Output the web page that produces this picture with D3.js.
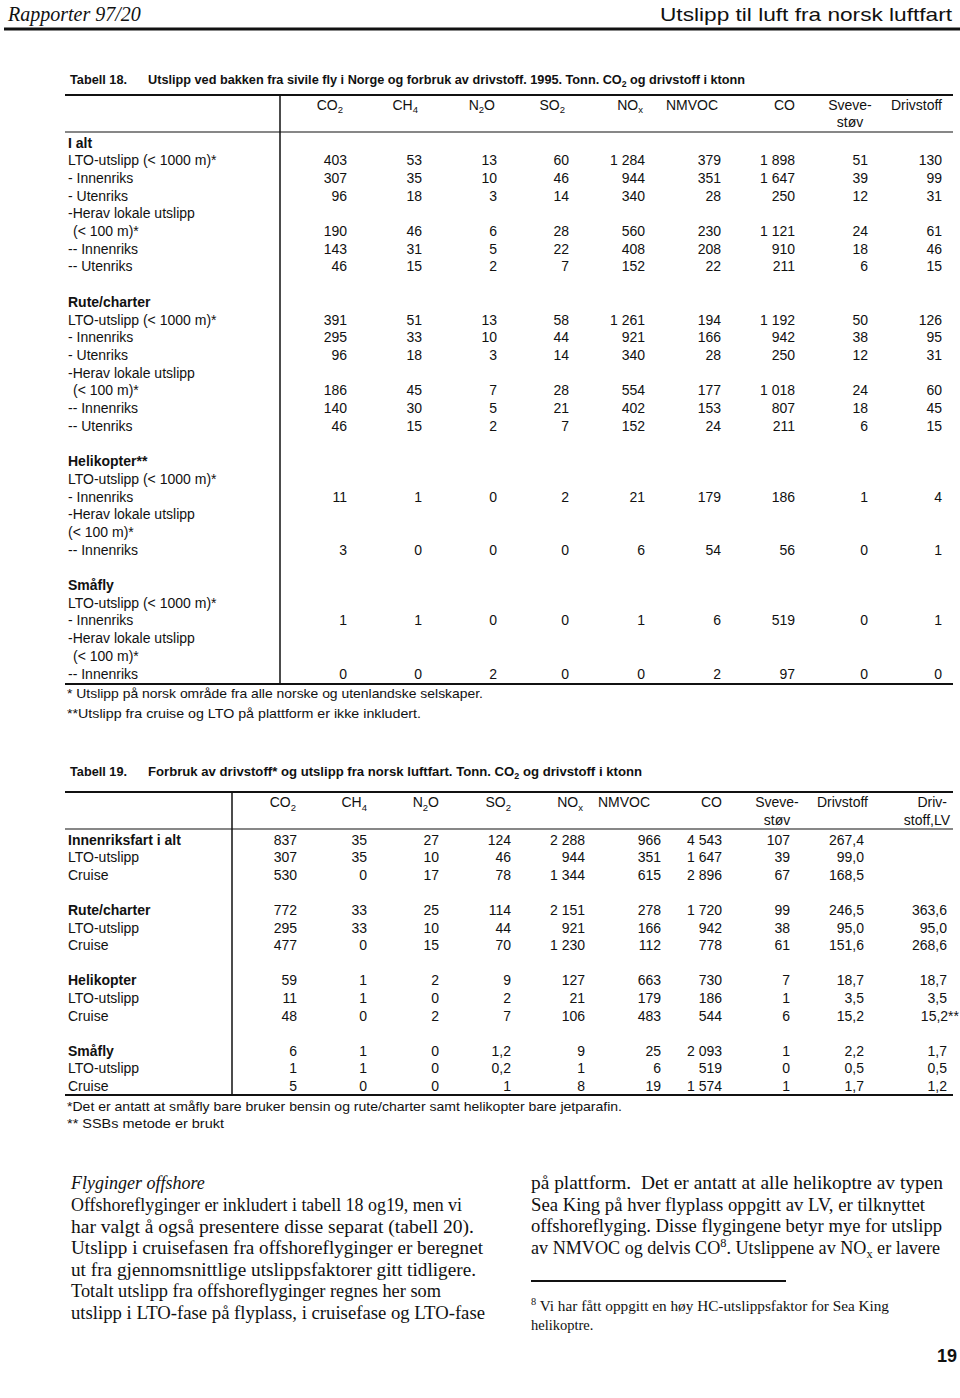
<!DOCTYPE html>
<html>
<head>
<meta charset="utf-8">
<script src="https://cdn.jsdelivr.net/npm/d3@7"></script>
<style>
  body { margin: 0; background: #fff; }
  text { fill: #111; }
</style>
</head>
<body>
<div id="page"></div>
<script>
// ---- Tabell 18 ----
var t18Title = "Utslipp ved bakken fra sivile fly i Norge og forbruk av drivstoff. 1995. Tonn. CO_2 og drivstoff i ktonn";
var t18Columns = ["CO_2", "CH_4", "N_2O", "SO_2", "NO_x", "NMVOC", "CO", "Sveve-|støv", "Drivstoff"];
var t18Groups = ["I alt", "Rute/charter", "Helikopter**", "Småfly"];
var t18Labels = [
    "I alt", "LTO-utslipp (< 1000 m)*", "- Innenriks", "- Utenriks", "-Herav lokale utslipp", " (< 100 m)*", "-- Innenriks", "-- Utenriks",
    "",
    "Rute/charter", "LTO-utslipp (< 1000 m)*", "- Innenriks", "- Utenriks", "-Herav lokale utslipp", " (< 100 m)*", "-- Innenriks", "-- Utenriks",
    "",
    "Helikopter**", "LTO-utslipp (< 1000 m)*", "- Innenriks", "-Herav lokale utslipp", "(< 100 m)*", "-- Innenriks",
    "",
    "Småfly", "LTO-utslipp (< 1000 m)*", "- Innenriks", "-Herav lokale utslipp", " (< 100 m)*", "-- Innenriks"
];
var t18Values = [
    null, [403, 53, 13, 60, 1284, 379, 1898, 51, 130], [307, 35, 10, 46, 944, 351, 1647, 39, 99], [96, 18, 3, 14, 340, 28, 250, 12, 31],
    null, [190, 46, 6, 28, 560, 230, 1121, 24, 61], [143, 31, 5, 22, 408, 208, 910, 18, 46], [46, 15, 2, 7, 152, 22, 211, 6, 15],
    null,
    null, [391, 51, 13, 58, 1261, 194, 1192, 50, 126], [295, 33, 10, 44, 921, 166, 942, 38, 95], [96, 18, 3, 14, 340, 28, 250, 12, 31],
    null, [186, 45, 7, 28, 554, 177, 1018, 24, 60], [140, 30, 5, 21, 402, 153, 807, 18, 45], [46, 15, 2, 7, 152, 24, 211, 6, 15],
    null,
    null, null, [11, 1, 0, 2, 21, 179, 186, 1, 4], null, null, [3, 0, 0, 0, 6, 54, 56, 0, 1],
    null,
    null, null, [1, 1, 0, 0, 1, 6, 519, 0, 1], null, null, [0, 0, 2, 0, 0, 2, 97, 0, 0]
];
var t18Notes = ["* Utslipp på norsk område fra alle norske og utenlandske selskaper.",
                "**Utslipp fra cruise og LTO på plattform er ikke inkludert."];

// ---- Tabell 19 ----
var t19Title = "Forbruk av drivstoff* og utslipp fra norsk luftfart. Tonn. CO_2 og drivstoff i ktonn";
var t19Columns = ["CO_2", "CH_4", "N_2O", "SO_2", "NO_x", "NMVOC", "CO", "Sveve-|støv", "Drivstoff", "Driv-|stoff,LV"];
var t19Groups = ["Innenriksfart i alt", "Rute/charter", "Helikopter", "Småfly"];
var t19Labels = [
    "Innenriksfart i alt", "LTO-utslipp", "Cruise", "",
    "Rute/charter", "LTO-utslipp", "Cruise", "",
    "Helikopter", "LTO-utslipp", "Cruise", "",
    "Småfly", "LTO-utslipp", "Cruise"
];
var t19Values = [
    [837, 35, 27, 124, 2288, 966, 4543, 107, 267.4, null],
    [307, 35, 10, 46, 944, 351, 1647, 39, 99.0, null],
    [530, 0, 17, 78, 1344, 615, 2896, 67, 168.5, null],
    null,
    [772, 33, 25, 114, 2151, 278, 1720, 99, 246.5, 363.6],
    [295, 33, 10, 44, 921, 166, 942, 38, 95.0, 95.0],
    [477, 0, 15, 70, 1230, 112, 778, 61, 151.6, 268.6],
    null,
    [59, 1, 2, 9, 127, 663, 730, 7, 18.7, 18.7],
    [11, 1, 0, 2, 21, 179, 186, 1, 3.5, 3.5],
    [48, 0, 2, 7, 106, 483, 544, 6, 15.2, 15.2],
    null,
    [6, 1, 0, 1.2, 9, 25, 2093, 1, 2.2, 1.7],
    [1, 1, 0, 0.2, 1, 6, 519, 0, 0.5, 0.5],
    [5, 0, 0, 1, 8, 19, 1574, 1, 1.7, 1.2]
];
var t19Marks = [{ row: 10, col: 9, mark: "**" }];
var t19Notes = ["*Det er antatt at småfly bare bruker bensin og rute/charter samt helikopter bare jetparafin.",
                "** SSBs metode er brukt"];

// ---- brødtekst ----
var bodyHeading = "Flyginger offshore";
var bodyLeft = [
    "Offshoreflyginger er inkludert i tabell 18 og19, men vi",
    "har valgt å også presentere disse separat (tabell 20).",
    "Utslipp i cruisefasen fra offshoreflyginger er beregnet",
    "ut fra gjennomsnittlige utslippsfaktorer gitt tidligere.",
    "Totalt utslipp fra offshoreflyginger regnes her som",
    "utslipp i LTO-fase på flyplass, i cruisefase og LTO-fase"
];
var bodyRight = [
    "på plattform.\u00a0 Det er antatt at alle helikoptre av typen",
    "Sea King på hver flyplass oppgitt av LV, er tilknyttet",
    "offshoreflyging. Disse flygingene betyr mye for utslipp",
    "av NMVOC og delvis CO^8. Utslippene av NO_x er lavere"
];
var footnote8 = ["^8 Vi har fått oppgitt en høy HC-utslippsfaktor for Sea King", "helikoptre."];

var W = 960, H = 1398;
var sans = "'Liberation Sans', Arial, sans-serif";
var serif = "'Liberation Serif', 'Times New Roman', serif";

var svg = d3.select("#page").append("svg")
    .attr("width", W)
    .attr("height", H);

var loc = d3.formatLocale({ decimal: ",", thousands: "\u00a0", grouping: [3], currency: ["", ""] });
var fmtInt = loc.format(",d"), fmtDec = loc.format(",.1f");

// writes text with _x subscripts and ^x superscripts
function rich(sel, str, size) {
    var parts = str.split(/([_^][0-9a-z])/).filter(function(p) { return p !== ""; });
    var back = 0;
    parts.forEach(function(p) {
        var t;
        if (p.length === 2 && (p[0] === "_" || p[0] === "^")) {
            var d = p[0] === "_" ? size * 0.25 : -size * 0.4;
            t = sel.append("tspan").attr("font-size", size * 0.68).attr("dy", d + back).text(p[1]);
            back = -d;
        } else {
            t = sel.append("tspan").text(p);
            if (back) t.attr("dy", back);
            back = 0;
        }
    });
    return sel;
}

function hline(x1, x2, y, w) {
    svg.append("line").attr("x1", x1).attr("x2", x2).attr("y1", y).attr("y2", y)
        .attr("stroke", "#111").attr("stroke-width", w);
}

// page header
svg.append("text").attr("x", 8).attr("y", 21)
    .style("font-family", serif).style("font-style", "italic").style("font-size", "20px")
    .text("Rapporter 97/20");
svg.append("text").attr("x", 952).attr("y", 21).attr("text-anchor", "end")
    .attr("textLength", 292).attr("lengthAdjust", "spacingAndGlyphs")
    .style("font-family", sans).style("font-size", "19px")
    .text("Utslipp til luft fra norsk luftfart");
hline(4, 960, 29, 3);

function drawTable(opt) {
    var g = svg.append("g");
    var fs = 14;

    g.append("text").attr("x", 70).attr("y", opt.titleY)
        .attr("textLength", 57).attr("lengthAdjust", "spacingAndGlyphs")
        .style("font-family", sans).style("font-weight", "bold").style("font-size", "12.5px")
        .text(opt.tableNo);
    rich(g.append("text").attr("x", 148).attr("y", opt.titleY)
        .attr("textLength", opt.titleLen).attr("lengthAdjust", "spacingAndGlyphs")
        .style("font-family", sans).style("font-weight", "bold").style("font-size", "12.5px"), opt.title, 12.5);

    var x = d3.scaleOrdinal().domain(opt.columns).range(opt.rightEdges);
    var y = d3.scaleLinear().domain([0, opt.labels.length - 1]).range(opt.rowRange);

    hline(65, 953, opt.top, 1.8);
    hline(65, 953, opt.headRule, 1.2);
    hline(65, 953, opt.bottom, 1.8);
    g.append("line").attr("x1", opt.vline).attr("x2", opt.vline)
        .attr("y1", opt.top).attr("y2", opt.bottom + 1)
        .attr("stroke", "#111").attr("stroke-width", 1.5);

    // column headers
    opt.columns.forEach(function(c, i) {
        var h = opt.headPos[i];
        c.split("|").forEach(function(l, k) {
            var t = g.append("text")
                .attr("x", x(c) + (k === 1 && h.dx2 !== undefined ? h.dx2 : h.dx))
                .attr("y", opt.headY + k * 17.5)
                .attr("text-anchor", h.anchor)
                .style("font-family", sans).style("font-size", fs + "px");
            rich(t, l, fs);
        });
    });

    // row labels
    var rows = opt.labels.map(function(d, i) { return { s: d, i: i }; })
        .filter(function(d) { return d.s !== ""; });
    g.selectAll(".lab").data(rows).join("text")
        .attr("class", "lab")
        .attr("x", function(d) { return d.s[0] === " " ? 73 : 68; })
        .attr("y", function(d) { return y(d.i) + 4.8; })
        .style("font-family", sans).style("font-size", fs + "px")
        .style("font-weight", function(d) { return opt.groups.indexOf(d.s) >= 0 ? "bold" : "normal"; })
        .text(function(d) { return d.s.trim(); });

    // cells
    var cells = [];
    opt.values.forEach(function(row, r) {
        if (!row) return;
        row.forEach(function(v, c) {
            if (v === null) return;
            var s = opt.fixed.indexOf(c) >= 0 || !Number.isInteger(v) ? fmtDec(v) : fmtInt(v);
            (opt.marks || []).forEach(function(m) { if (m.row === r && m.col === c) s += m.mark; });
            cells.push({ r: r, c: c, s: s });
        });
    });
    g.selectAll(".cell").data(cells).join("text")
        .attr("class", "cell")
        .attr("x", function(d) { return x(opt.columns[d.c]) + (d.s.indexOf("*") >= 0 ? 12 : 0); })
        .attr("y", function(d) { return y(d.r) + 4.8; })
        .attr("text-anchor", "end")
        .style("font-family", sans).style("font-size", fs + "px")
        .text(function(d) { return d.s; });

    // notes
    opt.notes.forEach(function(n, i) {
        g.append("text").attr("x", 67).attr("y", opt.noteY[i])
            .attr("textLength", opt.noteLen[i]).attr("lengthAdjust", "spacingAndGlyphs")
            .style("font-family", sans).style("font-size", "13px")
            .text(n);
    });
}

drawTable({
    tableNo: "Tabell 18.", title: t18Title, titleY: 84, titleLen: 597,
    columns: t18Columns, labels: t18Labels, values: t18Values, groups: t18Groups,
    rightEdges: [347, 422, 497, 569, 645, 721, 795, 868, 942],
    headPos: [
        { anchor: "end", dx: -4 }, { anchor: "end", dx: -4 }, { anchor: "end", dx: -2 },
        { anchor: "end", dx: -4 }, { anchor: "end", dx: -2 }, { anchor: "start", dx: -55 },
        { anchor: "end", dx: 0 }, { anchor: "middle", dx: -18 }, { anchor: "end", dx: 0 }
    ],
    top: 95, headRule: 132, bottom: 684, vline: 280,
    headY: 109.5, rowRange: [142.7, 673.7], fixed: [],
    notes: t18Notes, noteY: [697.5, 718], noteLen: [416, 354]
});

drawTable({
    tableNo: "Tabell 19.", title: t19Title, titleY: 776, titleLen: 494,
    columns: t19Columns, labels: t19Labels, values: t19Values, groups: t19Groups, marks: t19Marks,
    rightEdges: [297, 367, 439, 511, 585, 661, 722, 790, 864, 947],
    headPos: [
        { anchor: "end", dx: -1 }, { anchor: "end", dx: 0 }, { anchor: "end", dx: 0 },
        { anchor: "end", dx: 0 }, { anchor: "end", dx: -2 }, { anchor: "start", dx: -63 },
        { anchor: "end", dx: 0 }, { anchor: "middle", dx: -13 }, { anchor: "end", dx: 4 },
        { anchor: "end", dx: 0, dx2: 3 }
    ],
    top: 792, headRule: 829, bottom: 1095, vline: 232,
    headY: 807, rowRange: [840, 1086], fixed: [8, 9],
    notes: t19Notes, noteY: [1110.5, 1127.5], noteLen: [555, 157]
});

// body text
var leftEnds = [462, 474, 483, 476, 441, 485];
var rightEnds = [943, 925, 942, 940];
var body = svg.append("g").style("font-family", serif).style("font-size", "18px");
body.append("text").attr("x", 71).attr("y", 1189).style("font-style", "italic").text(bodyHeading);
body.selectAll(".bl").data(bodyLeft).join("text")
    .attr("class", "bl")
    .attr("x", 71)
    .attr("y", function(d, i) { return 1211 + i * 21.6; })
    .attr("textLength", function(d, i) { return leftEnds[i] - 71; })
    .attr("lengthAdjust", "spacingAndGlyphs")
    .text(function(d) { return d; });
bodyRight.forEach(function(d, i) {
    rich(body.append("text").attr("x", 531).attr("y", 1189 + i * 21.6)
        .attr("textLength", rightEnds[i] - 531).attr("lengthAdjust", "spacingAndGlyphs"), d, 18);
});
hline(531, 786, 1281, 2);
footnote8.forEach(function(d, i) {
    var t = svg.append("text").attr("x", 531).attr("y", 1311 + i * 19)
        .style("font-family", serif).style("font-size", "14.5px");
    if (i === 0) t.attr("textLength", 358).attr("lengthAdjust", "spacingAndGlyphs");
    rich(t, d, 14.5);
});
svg.append("text").attr("x", 957).attr("y", 1362).attr("text-anchor", "end")
    .style("font-family", sans).style("font-weight", "bold").style("font-size", "18px")
    .text("19");
</script>
</body>
</html>
